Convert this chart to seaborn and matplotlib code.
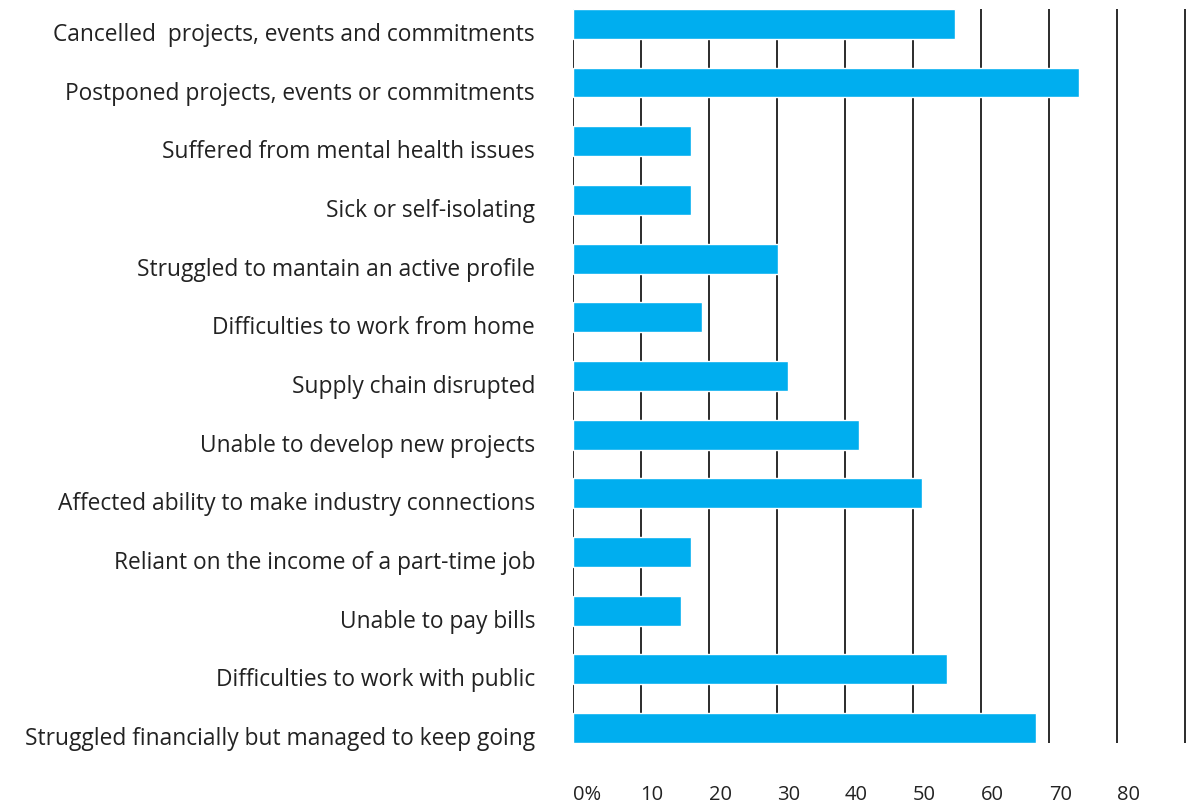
import matplotlib
matplotlib.use("Agg")
import matplotlib.pyplot as plt
import matplotlib.transforms as mtransforms
import seaborn as sns
import pandas as pd

# survey answers, top to bottom as shown
categories = [
    "Cancelled  projects, events and commitments",
    "Postponed projects, events or commitments",
    "Suffered from mental health issues",
    "Sick or self-isolating",
    "Struggled to mantain an active profile",
    "Difficulties to work from home",
    "Supply chain disrupted",
    "Unable to develop new projects",
    "Affected ability to make industry connections",
    "Reliant on the income of a part-time job",
    "Unable to pay bills",
    "Difficulties to work with public",
    "Struggled financially but managed to keep going",
]
percent = [56.2, 74.3, 17.4, 17.4, 30.1, 19.0, 31.6, 42.1, 51.3, 17.4, 15.9, 55.0, 68.0]

tick_values = [0, 10, 20, 30, 40, 50, 60, 70, 80, 90]
tick_labels = ["0%", "10", "20", "30", "40", "50", "60", "70", "80", ""]

df = pd.DataFrame({"answer": categories, "percent": percent})

sns.set_theme(style="white")
plt.rcParams["font.family"] = ["Open Sans", "DejaVu Sans"]

fig = plt.figure(figsize=(11.94, 8.05), dpi=100)
ax = fig.add_axes([0.4795, 0.077, 0.5145, 0.912])

sns.barplot(data=df, x="percent", y="answer", orient="h", color="#00AEEF",
            saturation=1, width=0.51, ax=ax, zorder=3)

ax.set_xlim(0, 90.2)
ax.set_ylim(len(categories) - 0.745, -0.255)
ax.set_xticks(tick_values)
ax.set_xticklabels(tick_labels, ha="left", fontsize=14.5, color="#222222")
ax.tick_params(axis="x", length=0, pad=30)
ax.tick_params(axis="y", length=0, pad=27, labelsize=16.4, labelcolor="#222222")
ax.grid(axis="x", color="#1a1a1a", linewidth=1.3, zorder=0)
ax.grid(axis="y", visible=False)
ax.set_axisbelow(True)
ax.set_xlabel("")
ax.set_ylabel("")
for s in ax.spines.values():
    s.set_visible(False)

# category labels sit a little below the bar centres in the original
shift = mtransforms.ScaledTranslation(0, -0.08, fig.dpi_scale_trans)
for lab in ax.get_yticklabels():
    lab.set_transform(lab.get_transform() + shift)

fig.savefig("out.png", dpi=100)
